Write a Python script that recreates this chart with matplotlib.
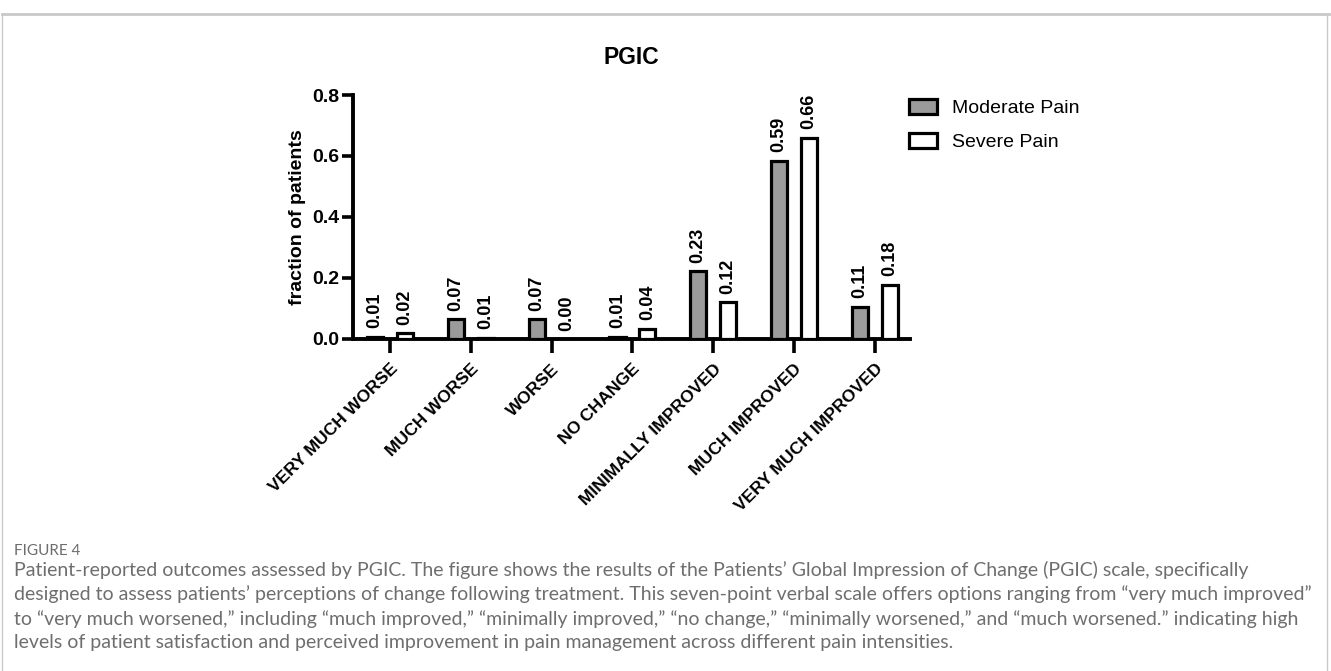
import matplotlib
matplotlib.use("Agg")
import matplotlib.pyplot as plt
import numpy as np
from matplotlib.lines import Line2D

categories = ["VERY MUCH WORSE", "MUCH WORSE", "WORSE", "NO CHANGE",
              "MINIMALLY IMPROVED", "MUCH IMPROVED", "VERY MUCH IMPROVED"]
moderate = [0.008, 0.066, 0.066, 0.008, 0.223, 0.585, 0.106]
severe = [0.020, 0.004, 0.0, 0.034, 0.120, 0.660, 0.178]
moderate_labels = ["0.01", "0.07", "0.07", "0.01", "0.23", "0.59", "0.11"]
severe_labels = ["0.02", "0.01", "0.00", "0.04", "0.12", "0.66", "0.18"]
series_names = ["Moderate Pain", "Severe Pain"]
yticks = [0.0, 0.2, 0.4, 0.6, 0.8]

caption_head = "FIGURE 4"
caption_lines = [
    "Patient-reported outcomes assessed by PGIC. The figure shows the results of the Patients\u2019 Global Impression of Change (PGIC) scale, specifically",
    "designed to assess patients\u2019 perceptions of change following treatment. This seven-point verbal scale offers options ranging from \u201cvery much improved\u201d",
    "to \u201cvery much worsened,\u201d including \u201cmuch improved,\u201d \u201cminimally improved,\u201d \u201cno change,\u201d \u201cminimally worsened,\u201d and \u201cmuch worsened.\u201d indicating high",
    "levels of patient satisfaction and perceived improvement in pain management across different pain intensities.",
]

plt.rcParams['font.family'] = ['Liberation Sans', 'DejaVu Sans']

W, H = 1331, 671
fig = plt.figure(figsize=(W / 100, H / 100), dpi=100)

# frame around figure panel
frame_col = "#c9c9c9"
fig.add_artist(Line2D([2 / W, 1329 / W], [1 - 13.5 / H, 1 - 13.5 / H], color=frame_col, lw=2.0, transform=fig.transFigure))
fig.add_artist(Line2D([2 / W, 2 / W], [0, 1 - 13.5 / H], color=frame_col, lw=1.0, transform=fig.transFigure))
fig.add_artist(Line2D([1327 / W, 1327 / W], [0, 1 - 13.5 / H], color=frame_col, lw=1.0, transform=fig.transFigure))

ax = fig.add_axes([353 / W, 1 - 339 / H, (910 - 353) / W, (339 - 95) / H])
x = np.arange(len(categories))
off = 0.185
bw = 0.2
ax.bar(x - off, moderate, bw, color="#9b9b9b", edgecolor="black", linewidth=2.3, label=series_names[0], zorder=3)
ax.bar(x + off, severe, bw, color="white", edgecolor="black", linewidth=2.3, label=series_names[1], zorder=3)

for xs, vals, labs in ((x - off, moderate, moderate_labels), (x + off, severe, severe_labels)):
    for xi, v, s in zip(xs, vals, labs):
        ax.annotate(s, (xi, v), xytext=(0, 6), textcoords="offset points", rotation=90,
                    ha="center", va="bottom", fontsize=13, fontweight="bold")

ax.set_xlim(-0.458, 6.436)
ax.set_ylim(0, 0.8)
ax.set_yticks(yticks)
ax.set_yticklabels([f"{t:.1f}" for t in yticks], fontsize=14, fontweight="bold")
ax.set_xticks(x)
ax.set_xticklabels(categories, rotation=45, ha="right", va="top", rotation_mode="anchor",
                   fontsize=12.6, fontweight="bold")
for lbl in ax.get_xticklabels():
    lbl.set_transform(lbl.get_transform() + matplotlib.transforms.ScaledTranslation(3 / 100, 0, fig.dpi_scale_trans))
ax.tick_params(axis="x", length=10, width=2.6, pad=6)
ax.tick_params(axis="y", length=8, width=2.6, pad=2)
for sp in ["top", "right"]:
    ax.spines[sp].set_visible(False)
for sp in ["left", "bottom"]:
    ax.spines[sp].set_linewidth(2.8)
ax.set_ylabel("fraction of patients", fontsize=14, fontweight="bold", labelpad=4)
ax.set_title("PGIC", fontsize=16.5, fontweight="bold", pad=22)

leg = fig.legend(loc="upper left", bbox_to_anchor=(909 / W, 1 - 99 / H), frameon=False, fontsize=14,
                 handlelength=1.45, handleheight=0.8, handletextpad=0.75, labelspacing=0.82,
                 borderpad=0, borderaxespad=0)

# caption
cap_col = "#6e6e6e"
fig.text(14 / W, 1 - 551 / H, caption_head, fontsize=11, color=cap_col, va="center", ha="left",
         family=["Lato", "DejaVu Sans"])
cap_texts = []
for i, line in enumerate(caption_lines):
    t = fig.text(14 / W, 1 - (570 + i * 24.3) / H, line, fontsize=14.0, color=cap_col, va="center", ha="left",
                 family=["Lato", "DejaVu Sans"])
    cap_texts.append(t)

# fit caption width to the panel (max line ~1302 px)
renderer = fig.canvas.get_renderer()
maxw = max(t.get_window_extent(renderer).width for t in cap_texts)
size = 14.0 * 1300.0 / maxw
for t in cap_texts:
    t.set_fontsize(size)

fig.savefig("out.png", dpi=100)
